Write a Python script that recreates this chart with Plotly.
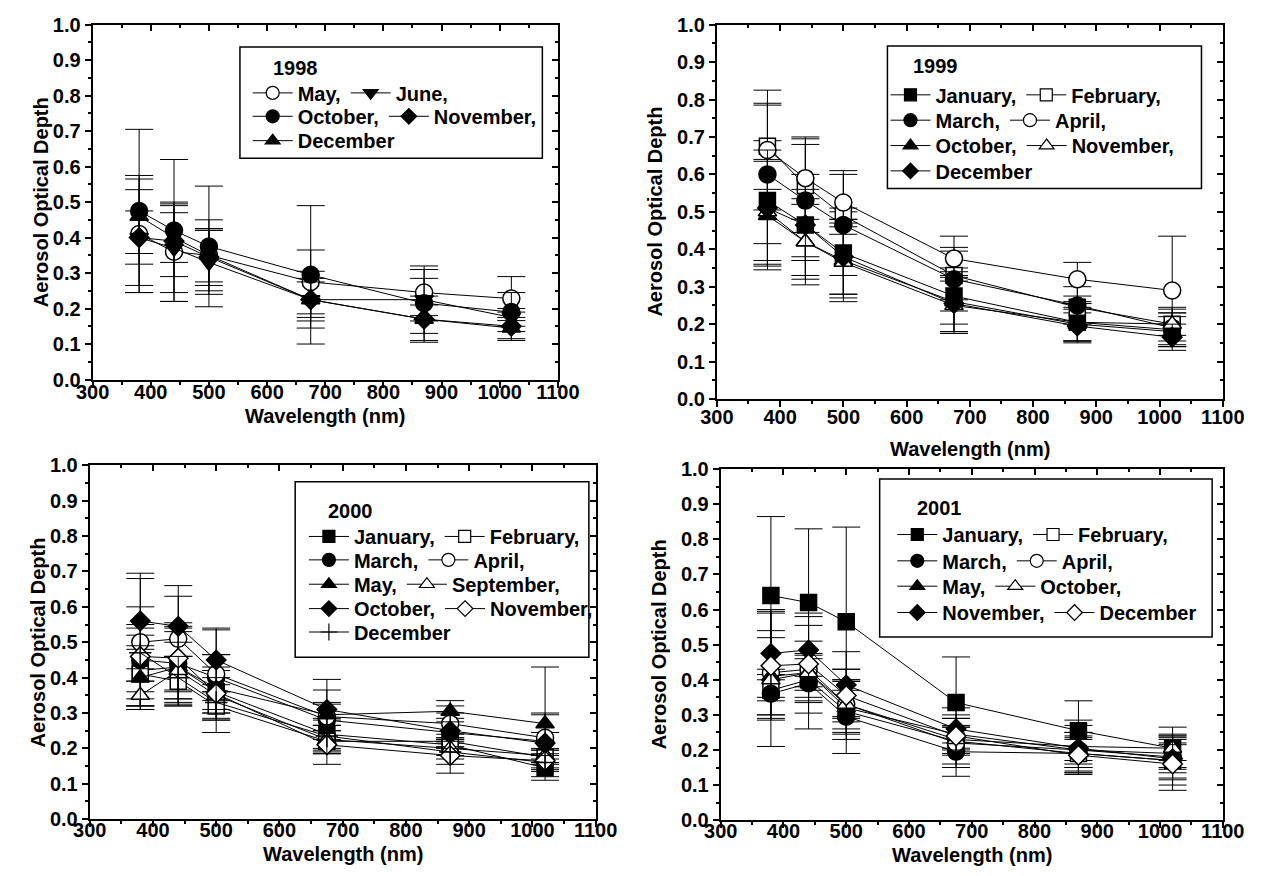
import plotly.graph_objects as go

W, H = 1270, 876
FONT = "Liberation Sans"

# ---------------------------------------------------------------- data
WAVELENGTH = [380, 440, 500, 675, 870, 1020]
X_TICKS = [300, 400, 500, 600, 700, 800, 900, 1000, 1100]
Y_TICKS = [0.0, 0.1, 0.2, 0.3, 0.4, 0.5, 0.6, 0.7, 0.8, 0.9, 1.0]
Y_TICK_LABELS = ["0.0", "0.1", "0.2", "0.3", "0.4", "0.5", "0.6", "0.7", "0.8", "0.9", "1.0"]

# 1998
aod_1998_may = [0.41, 0.36, 0.35, 0.275, 0.245, 0.228]
err_1998_may = [0.165, 0.14, 0.10, 0.09, 0.065, 0.062]
aod_1998_jun = [0.40, 0.37, 0.33, 0.225, 0.225, 0.175]
err_1998_jun = [0.075, 0.125, 0.09, 0.06, 0.06, 0.025]
aod_1998_oct = [0.475, 0.42, 0.375, 0.295, 0.215, 0.19]
err_1998_oct = [0.23, 0.20, 0.17, 0.195, 0.105, 0.055]
aod_1998_nov = [0.40, 0.39, 0.345, 0.225, 0.17, 0.15]
err_1998_nov = [0.135, 0.10, 0.08, 0.08, 0.04, 0.04]
aod_1998_dec = [0.46, 0.40, 0.35, 0.225, 0.17, 0.145]
err_1998_dec = [0.105, 0.07, 0.075, 0.05, 0.065, 0.03]

# 1999
aod_1999_jan = [0.53, 0.465, 0.39, 0.275, 0.205, 0.185]
err_1999_jan = [0.16, 0.135, 0.11, 0.075, 0.05, 0.045]
aod_1999_feb = [0.675, 0.57, 0.49, 0.33, 0.245, 0.20]
err_1999_feb = [0.115, 0.125, 0.02, 0.065, 0.015, 0.045]
aod_1999_mar = [0.60, 0.53, 0.465, 0.32, 0.25, 0.19]
err_1999_mar = [0.185, 0.15, 0.135, 0.085, 0.05, 0.05]
aod_1999_apr = [0.665, 0.59, 0.525, 0.375, 0.32, 0.29]
err_1999_apr = [0.16, 0.11, 0.085, 0.06, 0.045, 0.145]
aod_1999_oct = [0.49, 0.42, 0.37, 0.26, 0.20, 0.18]
err_1999_oct = [0.145, 0.10, 0.11, 0.08, 0.045, 0.04]
aod_1999_nov = [0.50, 0.42, 0.365, 0.25, 0.205, 0.20]
err_1999_nov = [0.14, 0.115, 0.095, 0.075, 0.05, 0.03]
aod_1999_dec = [0.51, 0.465, 0.38, 0.255, 0.195, 0.165]
err_1999_dec = [0.155, 0.095, 0.10, 0.075, 0.045, 0.035]

# 2000
aod_2000_jan = [0.42, 0.43, 0.36, 0.24, 0.21, 0.145]
err_2000_jan = [0.10, 0.10, 0.06, 0.04, 0.03, 0.025]
aod_2000_feb = [0.41, 0.39, 0.32, 0.22, 0.22, 0.175]
err_2000_feb = [0.07, 0.07, 0.04, 0.03, 0.005, 0.02]
aod_2000_mar = [0.45, 0.44, 0.40, 0.28, 0.245, 0.22]
err_2000_mar = [0.09, 0.115, 0.065, 0.085, 0.04, 0.025]
aod_2000_apr = [0.50, 0.51, 0.41, 0.29, 0.27, 0.23]
err_2000_apr = [0.18, 0.15, 0.125, 0.04, 0.05, 0.07]
aod_2000_may = [0.40, 0.43, 0.37, 0.295, 0.305, 0.27]
err_2000_may = [0.09, 0.11, 0.06, 0.03, 0.03, 0.16]
aod_2000_sep = [0.35, 0.42, 0.35, 0.225, 0.20, 0.18]
err_2000_sep = [0.04, 0.08, 0.05, 0.04, 0.03, 0.02]
aod_2000_oct = [0.56, 0.545, 0.45, 0.31, 0.25, 0.215]
err_2000_oct = [0.135, 0.085, 0.09, 0.085, 0.05, 0.08]
aod_2000_nov = [0.46, 0.455, 0.355, 0.21, 0.18, 0.165]
err_2000_nov = [0.14, 0.09, 0.11, 0.055, 0.05, 0.02]
aod_2000_dec = [0.47, 0.40, 0.33, 0.235, 0.19, 0.16]
err_2000_dec = [0.08, 0.06, 0.05, 0.05, 0.035, 0.02]

# 2001
aod_2001_jan = [0.64, 0.62, 0.565, 0.335, 0.255, 0.205]
err_2001_jan = [0.225, 0.21, 0.27, 0.13, 0.085, 0.06]
aod_2001_feb = [0.37, 0.40, 0.31, 0.225, 0.19, 0.17]
err_2001_feb = [0.03, 0.06, 0.06, 0.04, 0.04, 0.05]
aod_2001_mar = [0.36, 0.39, 0.295, 0.195, 0.19, 0.17]
err_2001_mar = [0.07, 0.085, 0.105, 0.07, 0.05, 0.07]
aod_2001_apr = [0.42, 0.43, 0.33, 0.22, 0.20, 0.18]
err_2001_apr = [0.12, 0.08, 0.07, 0.07, 0.07, 0.065]
aod_2001_may = [0.41, 0.42, 0.32, 0.245, 0.20, 0.19]
err_2001_may = [0.11, 0.05, 0.075, 0.025, 0.05, 0.04]
aod_2001_oct = [0.40, 0.42, 0.33, 0.23, 0.21, 0.205]
err_2001_oct = [0.19, 0.16, 0.10, 0.07, 0.075, 0.035]
aod_2001_nov = [0.475, 0.485, 0.385, 0.26, 0.205, 0.175]
err_2001_nov = [0.125, 0.105, 0.095, 0.06, 0.045, 0.04]
aod_2001_dec = [0.44, 0.445, 0.355, 0.24, 0.185, 0.16]
err_2001_dec = [0.155, 0.11, 0.075, 0.05, 0.05, 0.075]

# ---------------------------------------------------------------- styling
# marker style: (plotly symbol, fill colour, plot size, legend size)
MARKERS = {
    "sq": ("square", "black", 16, 12),
    "sq-o": ("square", "white", 16, 12),
    "ci": ("circle", "black", 17, 13),
    "ci-o": ("circle", "white", 17, 13),
    "tu": ("triangle-up", "black", 16, 13),
    "tu-o": ("triangle-up", "white", 16, 13),
    "td": ("triangle-down", "black", 16, 13),
    "di": ("diamond", "black", 15, 12),
    "di-o": ("diamond", "white", 15, 12),
    "plus": ("cross-thin", "black", 16, 12),
}

# each panel: plot-area box in pixels (left, top, right, bottom), series,
# legend layout (title position, row centres, row start, frame)
PANELS = [
    dict(
        year="1998",
        box=(78, 14, 558, 378),
        ytitle_x=25, xtitle_y=415, label_shift=-13,
        series=[
            ("May,", aod_1998_may, err_1998_may, "ci-o"),
            ("June,", aod_1998_jun, err_1998_jun, "td"),
            ("October,", aod_1998_oct, err_1998_oct, "ci"),
            ("November,", aod_1998_nov, err_1998_nov, "di"),
            ("December", aod_1998_dec, err_1998_dec, "tu"),
        ],
        rows=[["May,", "June,"], ["October,", "November,"], ["December"]],
        title_xy=(262, 58), row_x=238, row_y=[84, 108, 133],
        frame=(230, 37, 542, 151),
    ),
    dict(
        year="1999",
        box=(722, 14, 1244, 398),
        ytitle_x=658, xtitle_y=449, label_shift=-7,
        series=[
            ("January,", aod_1999_jan, err_1999_jan, "sq"),
            ("February,", aod_1999_feb, err_1999_feb, "sq-o"),
            ("March,", aod_1999_mar, err_1999_mar, "ci"),
            ("April,", aod_1999_apr, err_1999_apr, "ci-o"),
            ("October,", aod_1999_oct, err_1999_oct, "tu"),
            ("November,", aod_1999_nov, err_1999_nov, "tu-o"),
            ("December", aod_1999_dec, err_1999_dec, "di"),
        ],
        rows=[["January,", "February,"], ["March,", "April,"],
              ["October,", "November,"], ["December"]],
        title_xy=(922, 56), row_x=896, row_y=[86, 112, 138, 164],
        frame=(898, 36, 1222, 182),
    ),
    dict(
        year="2000",
        box=(75, 466, 597, 829),
        ytitle_x=22, xtitle_y=865, label_shift=-14,
        series=[
            ("January,", aod_2000_jan, err_2000_jan, "sq"),
            ("February,", aod_2000_feb, err_2000_feb, "sq-o"),
            ("March,", aod_2000_mar, err_2000_mar, "ci"),
            ("April,", aod_2000_apr, err_2000_apr, "ci-o"),
            ("May,", aod_2000_may, err_2000_may, "tu"),
            ("September,", aod_2000_sep, err_2000_sep, "tu-o"),
            ("October,", aod_2000_oct, err_2000_oct, "di"),
            ("November,", aod_2000_nov, err_2000_nov, "di-o"),
            ("December", aod_2000_dec, err_2000_dec, "plus"),
        ],
        rows=[["January,", "February,"], ["March,", "April,"],
              ["May,", "September,"], ["October,", "November,"], ["December"]],
        title_xy=(319, 513), row_x=296, row_y=[539, 563, 588, 613, 637],
        frame=(287, 483, 590, 663),
    ),
    dict(
        year="2001",
        box=(726, 470, 1244, 830),
        ytitle_x=662, xtitle_y=866, label_shift=-14,
        series=[
            ("January,", aod_2001_jan, err_2001_jan, "sq"),
            ("February,", aod_2001_feb, err_2001_feb, "sq-o"),
            ("March,", aod_2001_mar, err_2001_mar, "ci"),
            ("April,", aod_2001_apr, err_2001_apr, "ci-o"),
            ("May,", aod_2001_may, err_2001_may, "tu"),
            ("October,", aod_2001_oct, err_2001_oct, "tu-o"),
            ("November,", aod_2001_nov, err_2001_nov, "di"),
            ("December", aod_2001_dec, err_2001_dec, "di-o"),
        ],
        rows=[["January,", "February,"], ["March,", "April,"],
              ["May,", "October,"], ["November,", "December"]],
        title_xy=(926, 510), row_x=903, row_y=[537, 564, 590, 617],
        frame=(890, 480, 1233, 642),
    ),
]

TICK_FONT = dict(family=FONT, size=20, color="black", weight="bold")
TITLE_FONT = dict(family=FONT, size=20, color="black", weight="bold")
LEGEND_FONT = dict(family=FONT, size=20, color="black", weight="bold")


def px(x):
    return x / W


def py(y):
    return 1 - y / H


fig = go.Figure()
layout = dict(
    width=W, height=H,
    margin=dict(l=0, r=0, t=0, b=0),
    paper_bgcolor="white", plot_bgcolor="white",
    showlegend=True,
    font=dict(family=FONT, color="black"),
)
annotations = []
shapes = []
legend_index = 0

for p, panel in enumerate(PANELS):
    i = p + 1
    xa, ya = f"x{i}", f"y{i}"
    top_id, right_id = p + 5, p + 5
    left, top, right, bottom = panel["box"]

    base_x = dict(
        range=[300, 1100], autorange=False, tickmode="array", tickvals=X_TICKS,
        ticktext=[str(v) for v in X_TICKS], tickcolor="black", tickwidth=1.5,
        ticklen=6, showline=True, linewidth=2, linecolor="black",
        showgrid=False, zeroline=False, fixedrange=True, tickfont=TICK_FONT,
    )
    base_y = dict(
        range=[0, 1], autorange=False, tickmode="array", tickvals=Y_TICKS,
        ticktext=Y_TICK_LABELS, tickcolor="black", tickwidth=1.5,
        ticklen=6, showline=True, linewidth=2, linecolor="black",
        showgrid=False, zeroline=False, fixedrange=True, tickfont=TICK_FONT,
    )
    minor_x = dict(tickmode="linear", tick0=300, dtick=50, ticklen=3,
                   tickwidth=1.5, tickcolor="black", showgrid=False)
    minor_y = dict(tickmode="linear", tick0=0, dtick=0.05, ticklen=3,
                   tickwidth=1.5, tickcolor="black", showgrid=False)

    layout[f"xaxis{i}"] = dict(base_x, domain=[px(left), px(right)], anchor=ya,
                               ticks="outside", ticklabelstandoff=panel["label_shift"],
                               minor=dict(minor_x, ticks="outside"))
    layout[f"yaxis{i}"] = dict(base_y, domain=[py(bottom), py(top)], anchor=xa,
                               ticks="outside", minor=dict(minor_y, ticks="outside"))
    # frame on top / right with inward ticks
    layout[f"xaxis{top_id}"] = dict(base_x, overlaying=xa, side="top", anchor=ya,
                                    ticks="inside", showticklabels=False,
                                    minor=dict(minor_x, ticks="inside"))
    layout[f"yaxis{right_id}"] = dict(base_y, overlaying=ya, side="right", anchor=xa,
                                      ticks="inside", showticklabels=False,
                                      minor=dict(minor_y, ticks="inside"))
    fig.add_trace(go.Scatter(x=[None], y=[None], xaxis=f"x{top_id}", yaxis=ya,
                             showlegend=False, hoverinfo="skip"))
    fig.add_trace(go.Scatter(x=[None], y=[None], xaxis=xa, yaxis=f"y{right_id}",
                             showlegend=False, hoverinfo="skip"))

    # data series
    styles = {}
    for name, vals, errs, key in panel["series"]:
        sym, fill, size, lsize = MARKERS[key]
        styles[name] = (sym, fill, lsize)
        fig.add_trace(go.Scatter(
            x=WAVELENGTH, y=vals, xaxis=xa, yaxis=ya,
            mode="lines+markers", name=name, showlegend=False,
            line=dict(color="black", width=1),
            marker=dict(symbol=sym, size=size, color=fill,
                        line=dict(color="black", width=1.5)),
            error_y=dict(type="data", array=errs, visible=True, color="black",
                         thickness=1, width=14),
        ))

    # legend: one horizontal legend per row
    for r, row in enumerate(panel["rows"]):
        legend_index += 1
        lid = "legend" if legend_index == 1 else f"legend{legend_index}"
        for name in row:
            sym, fill, lsize = styles[name]
            fig.add_trace(go.Scatter(
                x=[None], y=[None], xaxis=xa, yaxis=ya,
                mode="lines+markers", name=name, legend=lid, showlegend=True,
                line=dict(color="black", width=1),
                marker=dict(symbol=sym, size=lsize, color=fill,
                            line=dict(color="black", width=1.2)),
                hoverinfo="skip",
            ))
        layout[lid] = dict(
            x=px(panel["row_x"]), y=py(panel["row_y"][r]),
            xanchor="left", yanchor="middle", orientation="h",
            bgcolor="rgba(0,0,0,0)", borderwidth=0, font=LEGEND_FONT,
            itemwidth=40, tracegroupgap=0,
        )

    fx0, fy0, fx1, fy1 = panel["frame"]
    shapes.append(dict(type="rect", xref="paper", yref="paper",
                       x0=px(fx0), x1=px(fx1), y0=py(fy1), y1=py(fy0),
                       line=dict(color="black", width=1.5)))
    tx, ty = panel["title_xy"]
    annotations.append(dict(text=panel["year"], xref="paper", yref="paper",
                            x=px(tx), y=py(ty), xanchor="left", yanchor="middle",
                            showarrow=False, font=TITLE_FONT))
    # axis titles
    annotations.append(dict(text="Wavelength (nm)", xref="paper", yref="paper",
                            x=px((left + right) / 2), y=py(panel["xtitle_y"]),
                            xanchor="center", yanchor="middle",
                            showarrow=False, font=TITLE_FONT))
    annotations.append(dict(text="Aerosol Optical Depth", xref="paper", yref="paper",
                            x=px(panel["ytitle_x"]), y=py((top + bottom) / 2),
                            xanchor="center", yanchor="middle", textangle=-90,
                            showarrow=False, font=TITLE_FONT))

layout["annotations"] = annotations
layout["shapes"] = shapes
fig.update_layout(layout)
fig.write_html("out.html")
